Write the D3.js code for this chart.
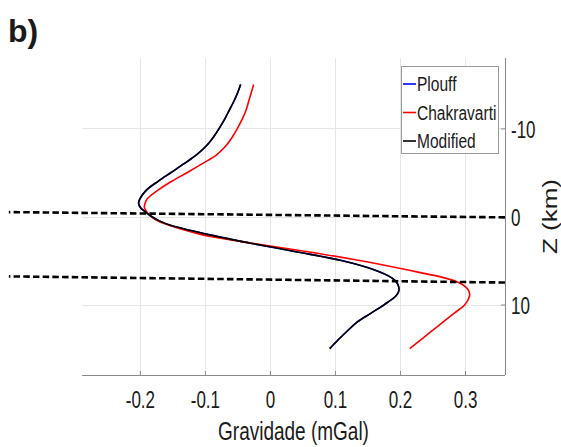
<!DOCTYPE html>
<html>
<head>
<meta charset="utf-8">
<script src="https://cdn.jsdelivr.net/npm/d3@7"></script>
<style>
  html, body { margin: 0; padding: 0; background: #fff; }
  svg { display: block; }
  text { font-family: "Liberation Sans", Arial, Helvetica, sans-serif; fill: #1a1a1a; }
</style>
</head>
<body>
<svg id="chart" width="561" height="447"></svg>
<script>
// ---- data ----
const depthZ = [-15,-14,-13,-12,-11,-10,-9,-8,-7,-6,-5,-4,-3,-2,-1.5,-1,-0.5,0,0.5,1,2,3,4,5,6,7,7.5,8,8.5,9,10,11,12,13,14,15];
const modifiedX = [-0.045,-0.050,-0.056,-0.063,-0.070,-0.078,-0.087,-0.098,-0.113,-0.132,-0.152,-0.172,-0.190,-0.200,-0.202,-0.199,-0.191,-0.182,-0.170,-0.153,-0.098,-0.032,0.040,0.110,0.158,0.188,0.195,0.198,0.198,0.194,0.176,0.155,0.134,0.119,0.105,0.092];
const plouffX = modifiedX.slice(); // hidden under "Modified" in the picture
const chakravartiX = [-0.025,-0.029,-0.033,-0.037,-0.043,-0.050,-0.058,-0.068,-0.082,-0.104,-0.127,-0.151,-0.172,-0.189,-0.192,-0.193,-0.189,-0.183,-0.173,-0.155,-0.108,-0.030,0.058,0.138,0.207,0.270,0.290,0.301,0.306,0.307,0.300,0.283,0.266,0.249,0.232,0.215];

const seriesNames = ["Plouff", "Chakravarti", "Modified"];
const seriesColors = ["#0000ff", "#ff0000", "#000000"];

const xTicks = [-0.2, -0.1, 0, 0.1, 0.2, 0.3];
const yTicks = [-10, 0, 10];
const xDomain = [-0.289, 0.3615];
const yDomain = [-18, 18];

// interface lines (dashed), extending left beyond the axes
const dashX = [-0.4015, 0.3615];
const dashTopZ = [-0.5, 0.1];
const dashBottomZ = [6.8, 7.5];

const titleText = "b)";
const xLabel = "Gravidade (mGal)";
const yLabel = "Z (km)";

// ---- layout ----
const svg = d3.select("#chart");
const L = 82, R = 505, T = 58, B = 375;
const SX = 0.74; // horizontal text squeeze seen in the reference

const x = d3.scaleLinear().domain(xDomain).range([L, R]);
const y = d3.scaleLinear().domain(yDomain).range([T, B]);

// grid
const grid = svg.append("g").attr("stroke", "#e6e6e6").attr("stroke-width", 1);
grid.selectAll(".gx").data(xTicks).join("line")
  .attr("x1", d => Math.round(x(d)) + 0.5).attr("x2", d => Math.round(x(d)) + 0.5)
  .attr("y1", T).attr("y2", B);
grid.selectAll(".gy").data(yTicks).join("line")
  .attr("y1", d => Math.round(y(d)) + 0.5).attr("y2", d => Math.round(y(d)) + 0.5)
  .attr("x1", L).attr("x2", R);

// axes
const fmt = d => String(d);
const xAxis = d3.axisBottom(x).tickValues(xTicks).tickFormat(fmt).tickSizeInner(-4).tickSizeOuter(0).tickPadding(0);
const gx = svg.append("g").attr("transform", `translate(0,${B})`).call(xAxis);
gx.select(".domain").attr("stroke", "#8a8a8a").attr("d", `M${L},0.5H${R}`);
gx.selectAll(".tick line").attr("stroke", "#8a8a8a");
gx.selectAll(".tick text")
  .attr("y", null).attr("dy", null)
  .attr("transform", "translate(0,33) scale(" + SX + ",1)")
  .attr("font-size", 23).attr("fill", "#1a1a1a")
  .style("font-family", '"Liberation Sans", Arial, sans-serif');

const yAxis = d3.axisRight(y).tickValues(yTicks).tickFormat(fmt).tickSizeInner(-4).tickSizeOuter(0).tickPadding(0);
const gy = svg.append("g").attr("transform", `translate(${R},0)`).call(yAxis);
gy.select(".domain").attr("stroke", "#8a8a8a").attr("d", `M0.5,${T}V${B}`);
gy.selectAll(".tick line").attr("stroke", "#8a8a8a");
gy.selectAll(".tick text")
  .attr("x", null).attr("dy", "0.35em")
  .attr("transform", "translate(6,1) scale(" + SX + ",1)")
  .attr("text-anchor", "start")
  .attr("font-size", 23).attr("fill", "#1a1a1a")
  .style("font-family", '"Liberation Sans", Arial, sans-serif');

// curves
const seriesX = [plouffX, chakravartiX, modifiedX];
const line = d3.line()
  .x(d => x(d[0])).y(d => y(d[1]))
  .curve(d3.curveCatmullRom.alpha(0.5));
seriesX.forEach((xs, i) => {
  const pts = xs.map((v, j) => [v, depthZ[j]]);
  svg.append("path").datum(pts)
    .attr("fill", "none")
    .attr("stroke", seriesColors[i])
    .attr("stroke-width", 1.6)
    .attr("d", line);
});

// dashed interface lines
[dashTopZ, dashBottomZ].forEach(zs => {
  svg.append("line")
    .attr("x1", x(dashX[0])).attr("x2", x(dashX[1]))
    .attr("y1", y(zs[0])).attr("y2", y(zs[1]))
    .attr("stroke", "#000").attr("stroke-width", 2.6)
    .attr("stroke-dasharray", "6.5,3.2").attr("stroke-dashoffset", 5);
});

// legend
const lg = svg.append("g");
lg.append("rect").attr("x", 401.5).attr("y", 66.5).attr("width", 97).attr("height", 87)
  .attr("fill", "#fff").attr("stroke", "#9a9a9a").attr("stroke-width", 1);
seriesNames.forEach((name, i) => {
  const cy = 84 + i * 28.5;
  lg.append("line").attr("x1", 403).attr("x2", 416).attr("y1", cy).attr("y2", cy)
    .attr("stroke", seriesColors[i]).attr("stroke-width", 1.6);
  lg.append("text").attr("transform", `translate(417,${cy}) scale(${SX},1)`)
    .attr("dy", "0.35em").attr("font-size", 21).text(name);
});

// axis labels
svg.append("text")
  .attr("transform", `translate(${(L + R) / 2},440) scale(0.76,1)`)
  .attr("text-anchor", "middle").attr("font-size", 25).text(xLabel);
svg.append("text")
  .attr("transform", `translate(550,${y(0)}) scale(0.77,1) rotate(-90)`)
  .attr("text-anchor", "middle").attr("dy", "0.35em").attr("font-size", 26).text(yLabel);

// panel title
svg.append("text").attr("x", 8).attr("y", 42)
  .attr("font-size", 32).attr("font-weight", "bold").attr("fill", "#000").text(titleText);
</script>
</body>
</html>
